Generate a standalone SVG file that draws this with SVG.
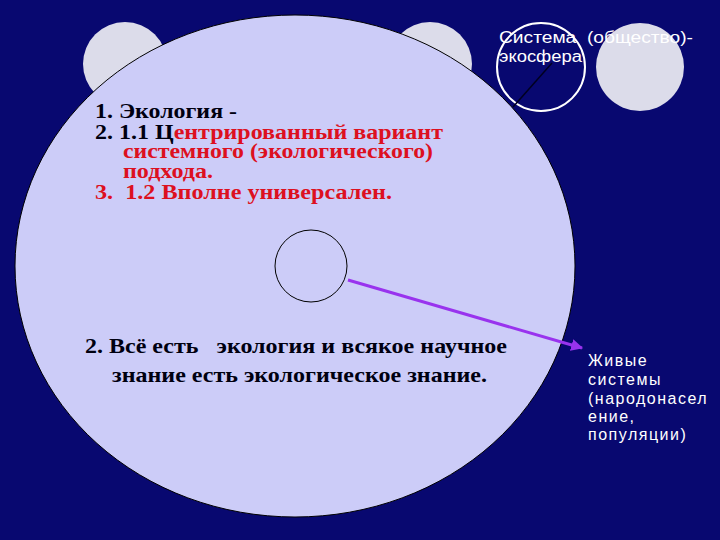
<svg xmlns="http://www.w3.org/2000/svg" width="720" height="540" viewBox="0 0 720 540">
<style>
.bg{fill:#080870}
.gray{fill:#DCDCEA}
.serif{font-family:"Liberation Serif","Times New Roman",serif;font-weight:bold;font-size:22px}
.list{font-size:20px}
.sans{font-family:"Liberation Sans",Arial,sans-serif;font-size:16px;fill:#FFFFFF}
.live{letter-spacing:1.5px}
.red{fill:#DD1020}
.blk{fill:#000010}
</style>
<defs>
<marker id="ah" viewBox="0 0 10 10" refX="9" refY="5" markerWidth="4" markerHeight="4" orient="auto" markerUnits="strokeWidth">
<path d="M0,0 L10,5 L0,10 z" fill="#9933EE"/>
</marker>
</defs>
<rect class="bg" x="0" y="0" width="720" height="540"/>
<g id="circle-left"><circle class="gray" cx="125" cy="64" r="42"/></g>
<g id="circle-mid"><circle class="gray" cx="430" cy="64" r="42"/></g>
<g id="circle-right"><circle class="gray" cx="640" cy="67" r="44"/></g>
<g id="big-ellipse"><ellipse cx="295" cy="266" rx="280" ry="251" fill="#CCCCF8" stroke="#000000" stroke-width="1"/></g>
<g id="ecosphere">
<circle cx="541" cy="67" r="44" fill="#080870" stroke="#FFFFFF" stroke-width="2"/>
<line x1="513" y1="107" x2="552" y2="63" stroke="#000020" stroke-width="1.5"/>
</g>
<g id="ecosphere-label">
<text class="sans" x="499" y="43" textLength="194" lengthAdjust="spacingAndGlyphs" xml:space="preserve">Система  (общество)-</text>
<text class="sans" x="499" y="62" textLength="83" lengthAdjust="spacingAndGlyphs">экосфера</text>
</g>
<g id="list">
<text class="serif list blk" x="95" y="118" textLength="142" lengthAdjust="spacingAndGlyphs">1. Экология -</text>
<text class="serif list" x="95" y="139" textLength="348" lengthAdjust="spacingAndGlyphs"><tspan class="blk">2. 1.1 Ц</tspan><tspan class="red">ентрированный вариант</tspan></text>
<text class="serif list red" x="123" y="158" textLength="310" lengthAdjust="spacingAndGlyphs">системного (экологического)</text>
<text class="serif list red" x="123" y="178" textLength="90" lengthAdjust="spacingAndGlyphs">подхода.</text>
<text class="serif list red" x="95" y="199" textLength="297" lengthAdjust="spacingAndGlyphs" xml:space="preserve">3.  1.2 Вполне универсален.</text>
</g>
<g id="small-circle"><circle cx="311" cy="266" r="36" fill="#CCCCF8" stroke="#000000" stroke-width="1"/></g>
<g id="connectors">
<line x1="348" y1="280" x2="582" y2="348" stroke="#9933EE" stroke-width="3" marker-end="url(#ah)"/>
</g>
<g id="statement">
<text class="serif blk" x="85" y="353" textLength="422" lengthAdjust="spacingAndGlyphs" xml:space="preserve">2. Всё есть   экология и всякое научное</text>
<text class="serif blk" x="112" y="382" textLength="375" lengthAdjust="spacingAndGlyphs">знание есть экологическое знание.</text>
</g>
<g id="living-label">
<text class="sans live" x="588" y="366">Живые</text>
<text class="sans live" x="588" y="385">системы</text>
<text class="sans live" x="588" y="404">(народонасел</text>
<text class="sans live" x="588" y="422">ение,</text>
<text class="sans live" x="588" y="440">популяции)</text>
</g>
</svg>
